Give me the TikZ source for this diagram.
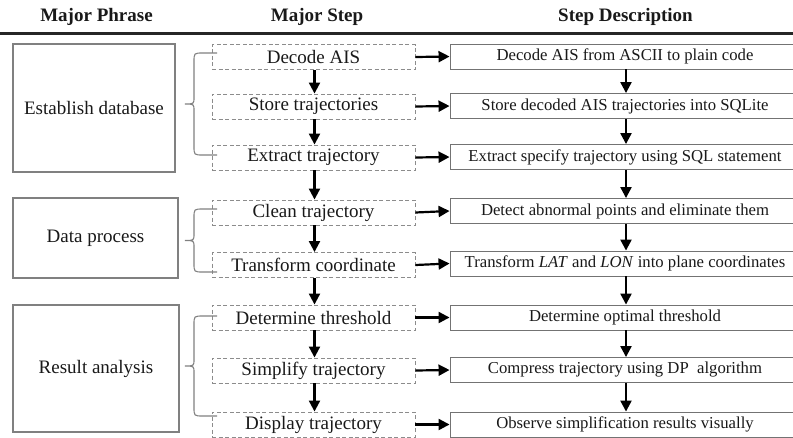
\documentclass[tikz,border=0pt]{standalone}
\usepackage{fontspec}
\setmainfont{Liberation Serif}
\usetikzlibrary{arrows.meta}
\begin{document}
\begin{tikzpicture}[x=1pt,y=-1pt,
  txt/.style={text=black!90},
  phasebox/.style={draw=black!50,line width=1.1pt,fill=white,txt,font=\rmfamily\fontsize{19}{22}\selectfont,inner sep=0pt},
  stepbox/.style={draw=black!45,line width=0.9pt,dash pattern=on 4pt off 2.5pt,txt,font=\rmfamily\fontsize{19}{22}\selectfont,minimum width=203pt,minimum height=25pt,inner sep=0pt},
  descbox/.style={draw=black!55,line width=0.9pt,txt,font=\rmfamily\fontsize{16.7}{20}\selectfont,minimum width=350pt,minimum height=25pt,inner sep=0pt},
  head/.style={font=\rmfamily\fontsize{19}{22}\selectfont\bfseries,anchor=base,txt},
  arr/.style={line width=2.2pt,-{Triangle[length=11pt,width=11pt]}},
  bracestyle/.style={draw=black!50,line width=1.1pt}
]
\clip (0,0) rectangle (793,437);
\fill[white] (0,0) rectangle (793,437);

% headers
\node[head] (h1) at (96.5,21) {Major Phrase};
\node[head] (h2) at (317,21) {Major Step};
\node[head] (h3) at (625.5,21) {Step Description};
\draw[line width=2.5pt,black!85] (0,33.7) -- (793,33.7);

% phase boxes
\node[phasebox,minimum width=162pt,minimum height=128pt] (p1) at (94,108) {Establish database};
\node[phasebox,minimum width=165pt,minimum height=80pt] (p2) at (95.5,238) {Data process};
\node[phasebox,minimum width=166pt,minimum height=127pt] (p3) at (96,368.5) {Result analysis};

% steps
\node[stepbox] (s1) at (313.5,57) {Decode AIS};
\node[stepbox] (s2) at (313.5,106.5) {Store trajectories};
\node[stepbox] (s3) at (313.5,157.5) {Extract trajectory};
\node[stepbox] (s4) at (313.5,212.5) {Clean trajectory};
\node[stepbox] (s5) at (313.5,265) {Transform coordinate};
\node[stepbox] (s6) at (313.5,317.5) {Determine threshold};
\node[stepbox] (s7) at (313.5,370.5) {Simplify trajectory};
\node[stepbox] (s8) at (313.5,424.5) {Display trajectory};

% descriptions
\node[descbox] (d1) at (625,56.5) {Decode AIS from ASCII to plain code};
\node[descbox] (d2) at (625,106) {Store decoded AIS trajectories into SQLite};
\node[descbox] (d3) at (625,157) {Extract specify trajectory using SQL statement};
\node[descbox] (d4) at (625,211) {Detect abnormal points and eliminate them};
\node[descbox] (d5) at (625,263.5) {Transform \textit{LAT} and \textit{LON} into plane coordinates};
\node[descbox] (d6) at (625,317.5) {Determine optimal threshold};
\node[descbox] (d7) at (625,370) {Compress trajectory using DP\ \ algorithm};
\node[descbox] (d8) at (625,424.5) {Observe simplification results visually};

% vertical arrows
\foreach \a/\b in {s1/s2,s2/s3,s3/s4,s4/s5,s5/s6,s6/s7,s7/s8,d1/d2,d2/d3,d3/d4,d4/d5,d5/d6,d6/d7,d7/d8}
  \draw[arr] ([xshift=1pt]\a.south) -- ([xshift=1pt]\b.north);
% horizontal arrows
\foreach \i in {1,...,8}
  \draw[arr] (s\i.east) -- (d\i.west);

% braces
\foreach \ya/\yb/\n in {53/155/b1,209/272/b2,316/416/b3}{
  \pgfmathsetmacro{\ym}{(\ya+\yb)/2}
  \coordinate (\n t) at (217,\ya);
  \coordinate (\n b) at (217,\yb);
  \draw[bracestyle] (\n t) -- (203,\ya) .. controls (194,\ya) .. (194,\ya+9)
    -- (194,\ym-7) .. controls (194,\ym) .. (185,\ym)
    .. controls (194,\ym) .. (194,\ym+7)
    -- (194,\yb-9) .. controls (194,\yb) .. (203,\yb) -- (\n b);
}
\end{tikzpicture}
\end{document}
